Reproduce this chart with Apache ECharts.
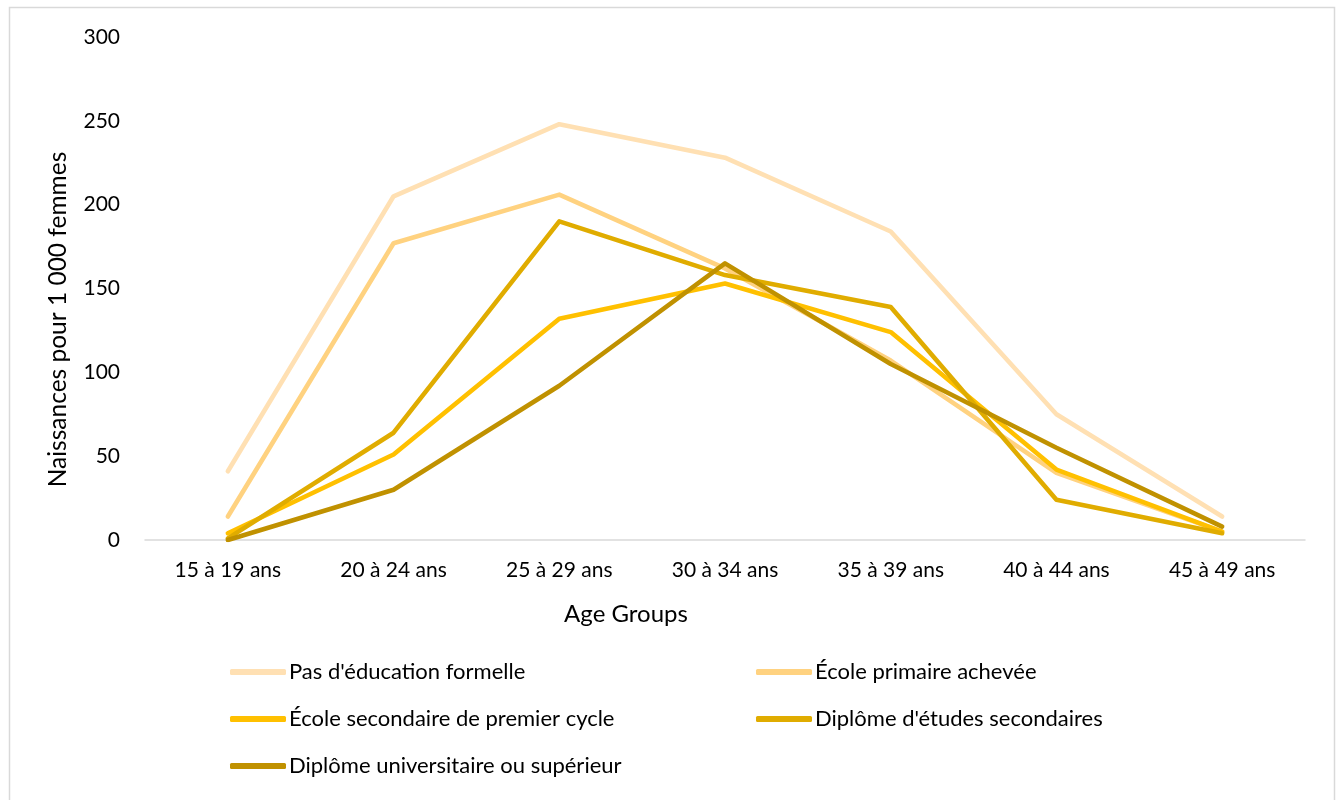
<!DOCTYPE html>
<html><head><meta charset="utf-8">
<script src="https://cdn.jsdelivr.net/npm/echarts@6/dist/echarts.min.js"></script>
<style>html,body{margin:0;padding:0;background:#fff}#c{width:1342px;height:800px}</style>
</head><body><div id="c"></div>
<script>
var categories = ['15 à 19 ans','20 à 24 ans','25 à 29 ans','30 à 34 ans','35 à 39 ans','40 à 44 ans','45 à 49 ans'];
var seriesNames = ["Pas d'éducation formelle","École primaire achevée","École secondaire de premier cycle","Diplôme d'études secondaires","Diplôme universitaire ou supérieur"];
var noEducation = [41, 205, 248, 228, 184, 75, 14];
var primary = [14, 177, 206, 162, 107, 40, 5];
var lowerSecondary = [4, 51, 132, 153, 124, 42, 5];
var secondaryDiploma = [1, 64, 190, 158, 139, 24, 4];
var university = [0, 30, 92, 165, 105, 55, 8];
var colors = ['#FFE0B3','#FFD280','#FFC000','#E0AC00','#C09100'];
var yTicks = [0, 50, 100, 150, 200, 250, 300];

var dataSets = [noEducation, primary, lowerSecondary, secondaryDiploma, university];
var font = 'Lato, "Open Sans", sans-serif';
function legendBlock(left, names) {
  return {
    orient: 'vertical', left: left, top: 656, itemGap: 25,
    itemWidth: 56, itemHeight: 6, icon: 'roundRect',
    textStyle: {fontSize: 22, lineHeight: 22, color: '#000', fontFamily: font, padding: [0,0,0,-2]},
    data: names.map(function(n){return {name:n};})
  };
}
var chart = echarts.init(document.getElementById('c'));
chart.setOption({
  animation: false,
  textStyle: {fontFamily: font},
  graphic: [{type:'rect', shape:{x:9.5,y:7.5,width:1325,height:810}, style:{fill:'none', stroke:'#d9d9d9', lineWidth:1.5}, silent:true}],
  grid: {left: 145, right: 37, top: 37, bottom: 260},
  legend: [
    legendBlock(225, [seriesNames[0], seriesNames[2], seriesNames[4]]),
    legendBlock(751, [seriesNames[1], seriesNames[3]])
  ],
  xAxis: {
    type: 'category', data: categories, boundaryGap: true,
    name: 'Age Groups', nameLocation: 'middle', nameGap: 62,
    nameTextStyle: {fontSize: 24, color: '#000', padding: [0, 198, 0, 0]},
    axisLine: {lineStyle: {color: '#d9d9d9', width: 1.5}},
    axisTick: {show: false},
    axisLabel: {fontSize: 21, color: '#000', margin: 20}
  },
  yAxis: {
    type: 'value', min: 0, max: 300, interval: 50,
    name: 'Naissances pour 1 000 femmes', nameLocation: 'middle', nameGap: 74,
    nameTextStyle: {fontSize: 24.5, color: '#000', padding: [0, 62, 0, 0]},
    axisLine: {show: false}, axisTick: {show: false},
    splitLine: {show: false},
    axisLabel: {fontSize: 21, color: '#000', margin: 25}
  },
  series: seriesNames.map(function(n, i){
    return {
      name: n, type: 'line', data: dataSets[i],
      showSymbol: false, symbol: 'none',
      lineStyle: {color: colors[i], width: 4.6, cap: 'round', join: 'round'},
      itemStyle: {color: colors[i]}
    };
  })
});
</script></body></html>
